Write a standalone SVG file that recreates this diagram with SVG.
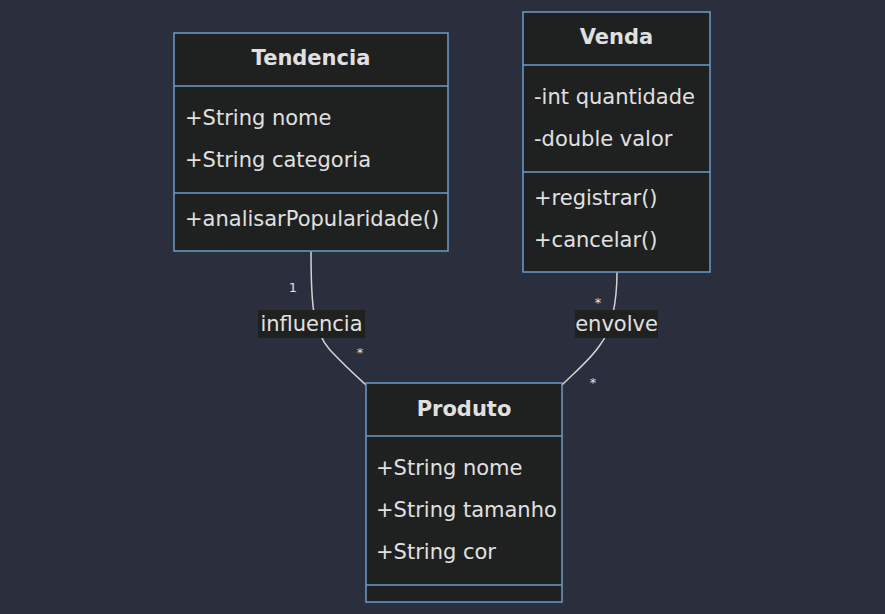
<svg xmlns="http://www.w3.org/2000/svg" width="885" height="614" viewBox="0 0 885 614">
<style>
.bg{fill:#2b2f3d}
.box{fill:#1f2020;stroke:#6d9bcb;stroke-width:1.5}
.div{stroke:#6d9bcb;stroke-width:1.5}
.t{font-family:"DejaVu Sans",sans-serif;font-size:21px;fill:#e0e0e0}
.title{font-weight:bold;text-anchor:middle}
.edge{fill:none;stroke:#d3d3d3;stroke-width:1.5}
.lblbg{fill:#1f2020}
.card{font-family:"DejaVu Sans",sans-serif;font-size:13px;fill:#e0e0e0;text-anchor:middle}
</style>
<rect class="bg" x="0" y="0" width="885" height="614"/>
<g id="connectors">
<path class="edge" d="M311,251 C311,300 312,330 330,350 C345,366 355,375 366,385"/>
<path class="edge" d="M617,272 C617,300 612,330 600,345 C590,360 575,372 562,385"/>
<rect class="lblbg" x="258" y="310" width="107" height="28"/>
<text class="t" x="311.5" y="331" text-anchor="middle">influencia</text>
<rect class="lblbg" x="575" y="310" width="83" height="28"/>
<text class="t" x="616.5" y="331" text-anchor="middle">envolve</text>
<text class="card" x="293" y="292">1</text>
<text class="card" x="360" y="357">*</text>
<text class="card" x="598" y="307">*</text>
<text class="card" x="593" y="387">*</text>
</g>
<g id="Tendencia">
<rect class="box" x="174" y="33" width="274" height="218"/>
<line class="div" x1="174" y1="86" x2="448" y2="86"/>
<line class="div" x1="174" y1="193" x2="448" y2="193"/>
<text class="t title" x="311" y="65">Tendencia</text>
<text class="t" x="185" y="125">+String nome</text>
<text class="t" x="185" y="167">+String categoria</text>
<text class="t" x="185" y="226">+analisarPopularidade()</text>
</g>
<g id="Venda">
<rect class="box" x="523" y="12" width="187" height="260"/>
<line class="div" x1="523" y1="65" x2="710" y2="65"/>
<line class="div" x1="523" y1="172" x2="710" y2="172"/>
<text class="t title" x="616.5" y="44">Venda</text>
<text class="t" x="534" y="104">-int quantidade</text>
<text class="t" x="534" y="146">-double valor</text>
<text class="t" x="534" y="205">+registrar()</text>
<text class="t" x="534" y="247">+cancelar()</text>
</g>
<g id="Produto">
<rect class="box" x="366" y="383" width="196" height="219"/>
<line class="div" x1="366" y1="436" x2="562" y2="436"/>
<line class="div" x1="366" y1="585" x2="562" y2="585"/>
<text class="t title" x="464" y="416">Produto</text>
<text class="t" x="376" y="475">+String nome</text>
<text class="t" x="376" y="517">+String tamanho</text>
<text class="t" x="376" y="559">+String cor</text>
</g>
</svg>
